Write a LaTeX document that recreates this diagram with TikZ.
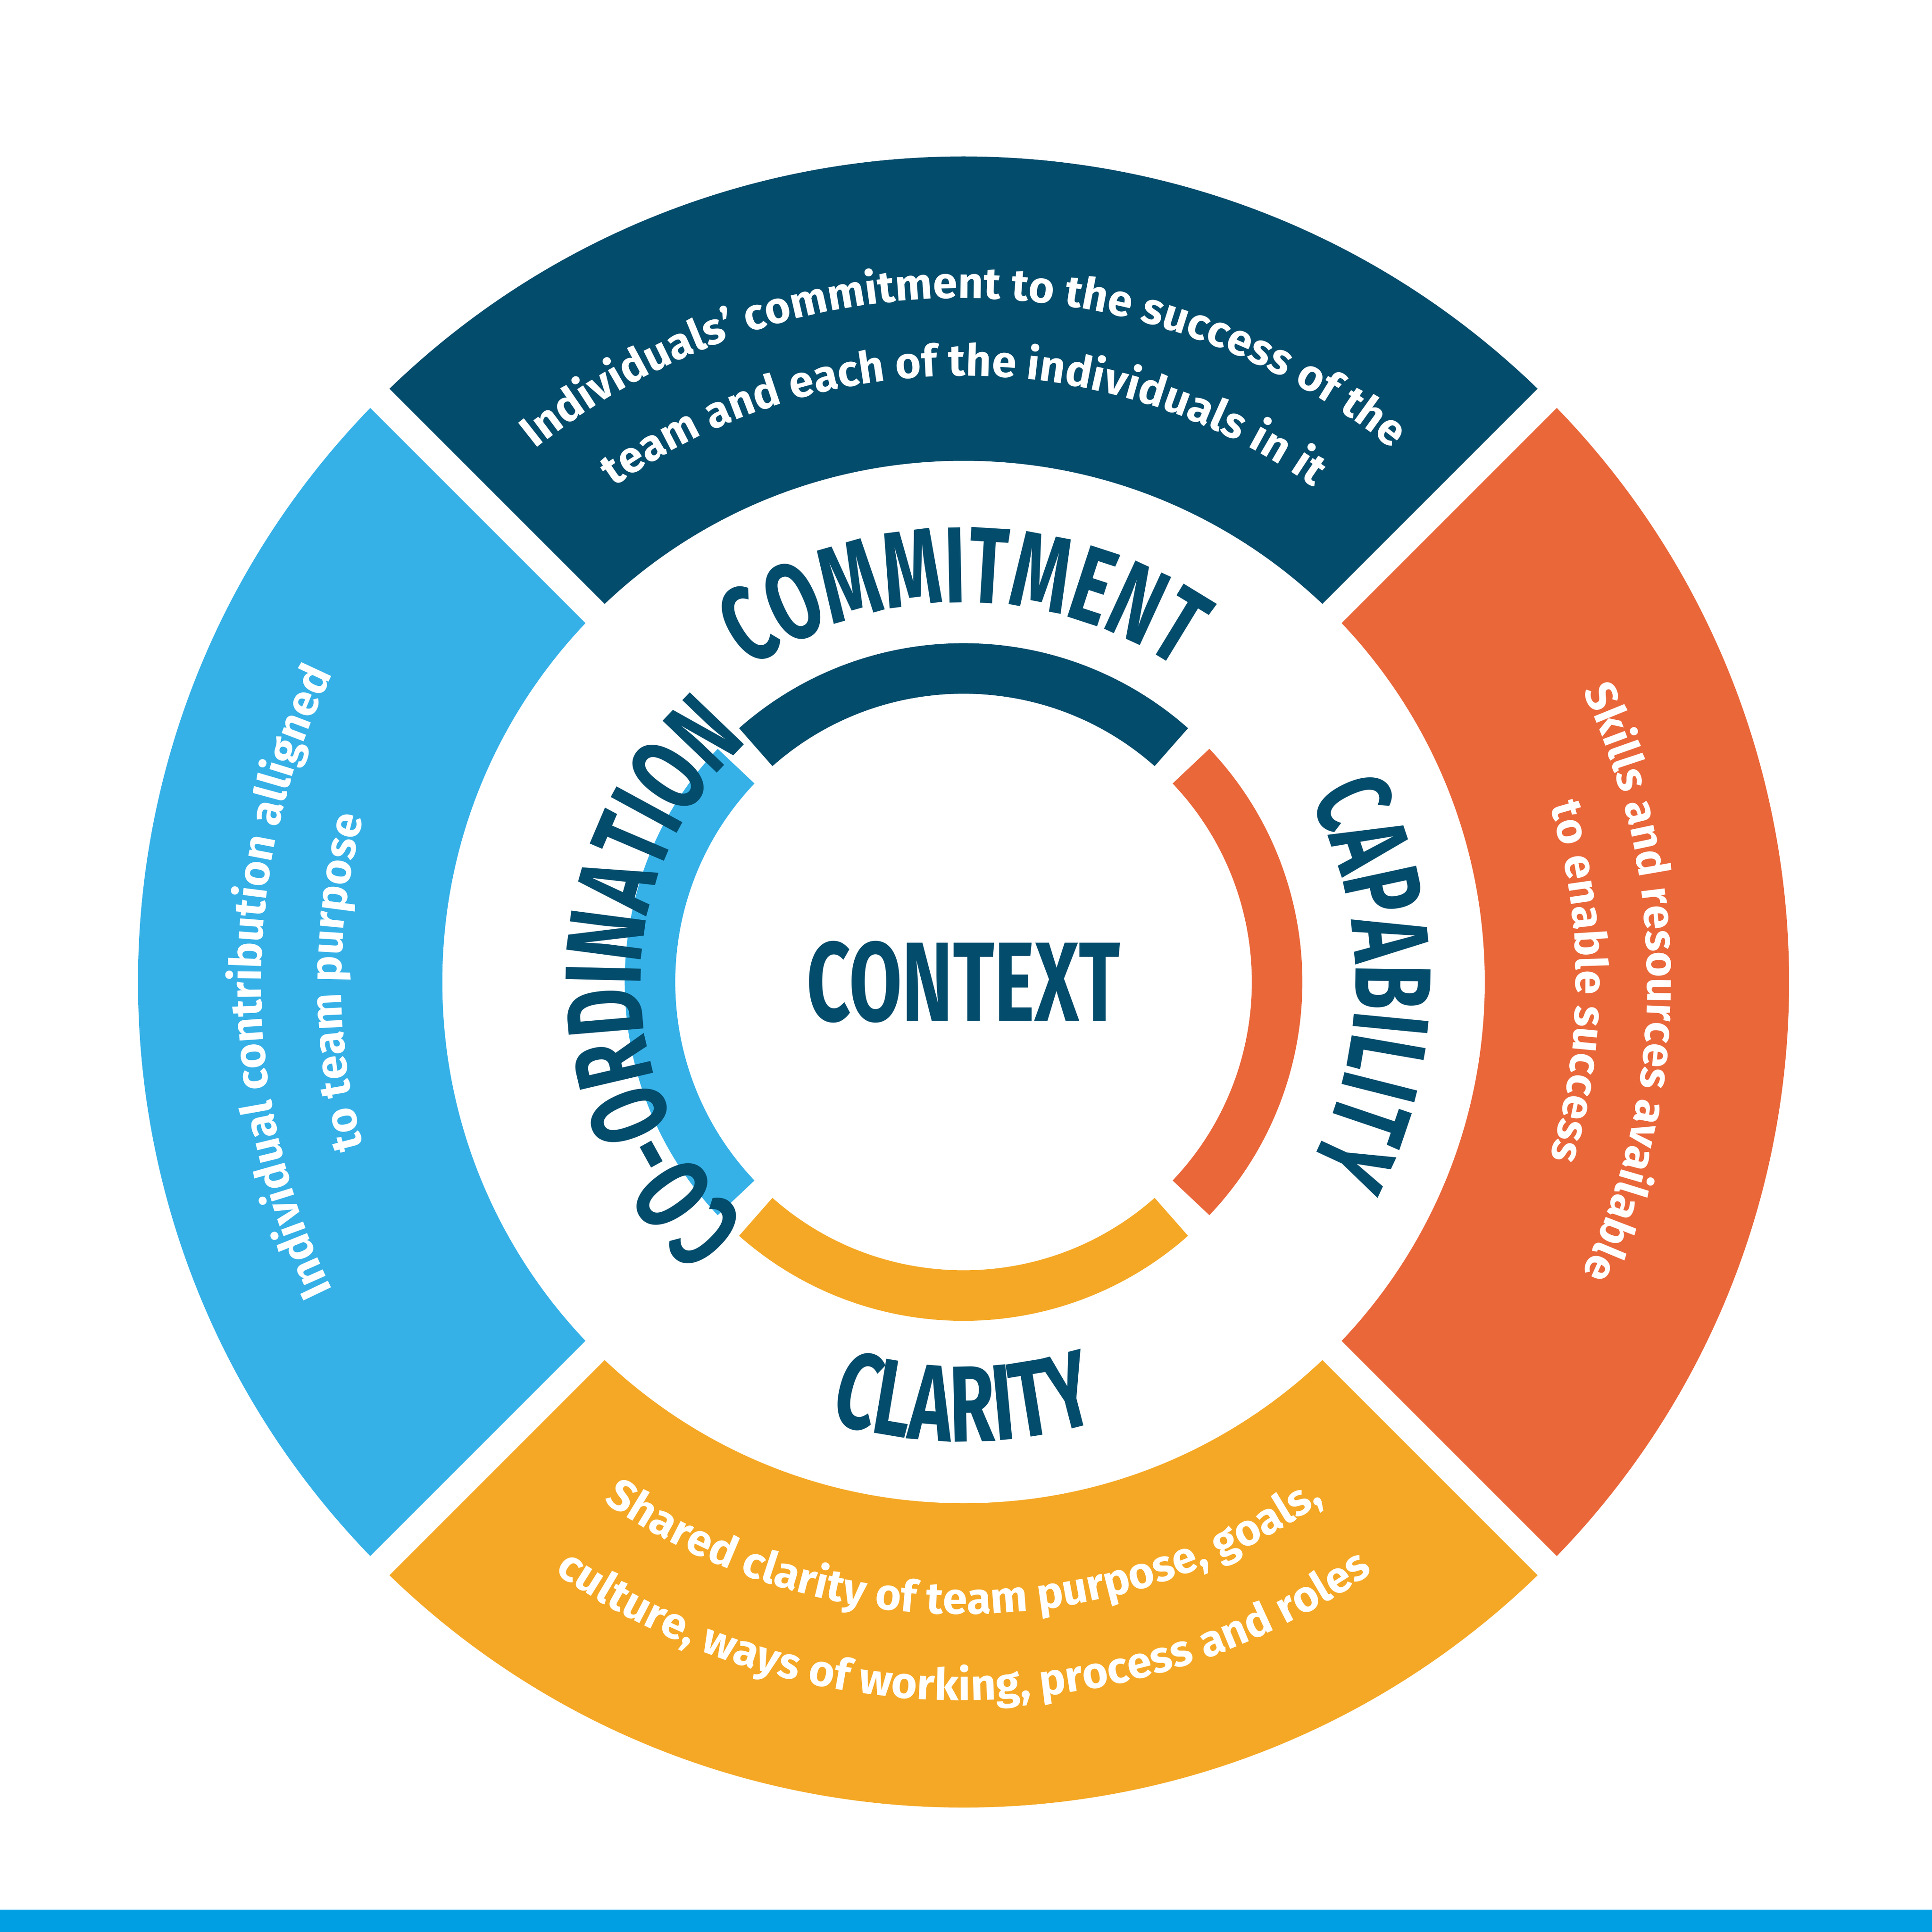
\documentclass[tikz,border=0pt]{standalone}
\usepackage{fontspec}
\setmainfont{Fira Sans}
\newfontfamily\cond[FakeStretch=0.68]{Fira Sans}
\usetikzlibrary{decorations.text}
\definecolor{navy}{HTML}{034C6C}
\definecolor{lblue}{HTML}{35B1E8}
\definecolor{orng}{HTML}{EA673A}
\definecolor{yel}{HTML}{F5A825}
\definecolor{bar}{HTML}{009FE3}
\tikzset{
 head/.style={decorate,decoration={text along path,text align=center,
   text={|\cond\bfseries\fontsize{25}{25}\selectfont\color{navy}|#1}}},
 body/.style={decorate,decoration={text along path,text align=center,
   text={|\bfseries\fontsize{10.2}{10.2}\selectfont\color{white}|#1}}},
}
\begin{document}
\begin{tikzpicture}
\useasboundingbox (0,0) rectangle (15.68,15.68);
\fill[white] (0,0) rectangle (15.68,15.68);
\fill[bar] (0,0) rectangle (15.68,0.18);
\coordinate (c) at (7.82,7.71);
% outer ring sectors
\fill[navy] (c) -- ++(45:6.7) arc[start angle=45,end angle=135,radius=6.7] -- cycle;
\fill[lblue] (c) -- ++(135:6.7) arc[start angle=135,end angle=225,radius=6.7] -- cycle;
\fill[yel] (c) -- ++(225:6.7) arc[start angle=225,end angle=315,radius=6.7] -- cycle;
\fill[orng] (c) -- ++(-45:6.7) arc[start angle=-45,end angle=45,radius=6.7] -- cycle;
\draw[white,line width=0.22cm] (c) -- ++(45:7) (c) -- ++(135:7) (c) -- ++(225:7) (c) -- ++(315:7);
\fill[white] (c) circle[radius=4.23];
% inner ring arcs
\draw[navy,line width=0.41cm] (c) ++(48.5:2.545) arc[start angle=48.5,end angle=131.5,radius=2.545];
\draw[lblue,line width=0.41cm] (c) ++(136.5:2.545) arc[start angle=136.5,end angle=223.5,radius=2.545];
\draw[yel,line width=0.41cm] (c) ++(228.5:2.545) arc[start angle=228.5,end angle=311.5,radius=2.545];
\draw[orng,line width=0.41cm] (c) ++(-43.5:2.545) arc[start angle=-43.5,end angle=43.5,radius=2.545];
% headings
\node[font=\cond\bfseries\fontsize{26}{26}\selectfont,text=navy] (ctx) at (c) {CONTEXT};
\path[head=COMMITMENT] (c) ++(175:3.08) arc[start angle=175,end angle=5,radius=3.08];
\path[head=CLARITY] (c) ++(200:3.73) arc[start angle=200,end angle=340,radius=3.73];
\path[head=CAPABILITY] (c) ++(85:3.18) arc[start angle=85,end angle=-85,radius=3.18];
\path[head=CO-ORDINATION] (c) ++(265:2.62) arc[start angle=265,end angle=95,radius=2.62];
% body texts
\path[body={Individuals' commitment to the success of the}] (c) ++(175:5.55) arc[start angle=175,end angle=5,radius=5.55];
\path[body={team and each of the individuals in it}] (c) ++(175:4.92) arc[start angle=175,end angle=5,radius=4.92];
\path[body={Skills and resources available}] (c) ++(85:5.55) arc[start angle=85,end angle=-85,radius=5.55];
\path[body={to enable success}] (c) ++(85:4.97) arc[start angle=85,end angle=-85,radius=4.97];
\path[body={Individual contribution alligned}] (c) ++(265:5.7) arc[start angle=265,end angle=95,radius=5.7];
\path[body={to team purpose}] (c) ++(265:5.05) arc[start angle=265,end angle=95,radius=5.05];
\path[body={Shared clarity of team purpose, goals,}] (c) ++(185:5.13) arc[start angle=185,end angle=355,radius=5.13];
\path[body={culture, ways of working, process and roles}] (c) ++(185:5.83) arc[start angle=185,end angle=355,radius=5.83];
\end{tikzpicture}
\end{document}
